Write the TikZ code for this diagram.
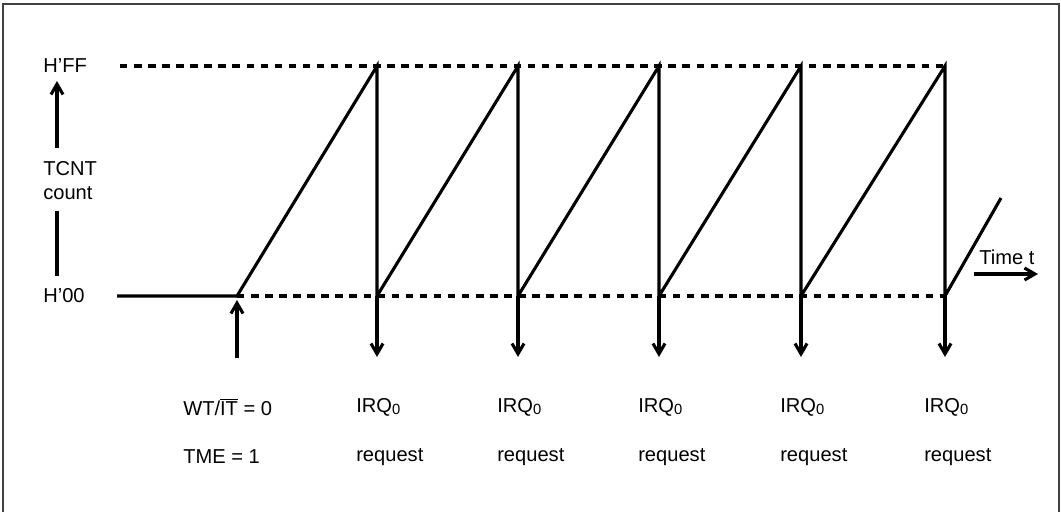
\documentclass[tikz,border=0pt]{standalone}
\usepackage{fontspec}
\setmainfont{Liberation Sans}
\usetikzlibrary{arrows.meta,positioning,calc}

\begin{document}
\begin{tikzpicture}[x=0.025cm,y=-0.025cm,>={Straight Barb[length=2.6mm,width=3mm]},
  lbl/.style={font=\fontsize{14.3}{17}\selectfont,inner sep=0pt,anchor=west},
  wave/.style={line width=2.2pt},
  lvl/.style={line width=2.2pt,dash pattern=on 5.3pt off 4.7pt}]
\useasboundingbox (0,0) rectangle (1061,512);
\clip (0,0) rectangle (1061,512);
\draw[line width=1pt,black!75] (3,4) rectangle (1059,540);
% axis labels
\node[lbl] (ff) at (43,66) {H'FF};
\node[lbl] (zero) at (43,296) {H'00};
\node[lbl,align=left] (tcnt) at (43,181) {TCNT\\count};
\coordinate (ua) at (57,148); \coordinate (ub) at (57,81);
\coordinate (la) at (57,211); \coordinate (lb) at (57,276);
\draw[->,wave] (ua) -- (ub);
\draw[wave] (la) -- (lb);
% levels
\coordinate (start) at (237,296);
\draw[lvl] (120,66) -- (945,66);
\draw[lvl] (start) -- (945,296);
% count
\draw[wave] (117,296) -- (start) -- (377,66) -- (377,296) -- (518,66) -- (518,296)
  -- (659,66) -- (659,296) -- (801,66) -- (801,296) -- (945,66) -- (945,296) -- (1001,198);
\foreach \x in {377,518,659,801,945}{
  \coordinate (r\x) at (\x,296); \coordinate (q\x) at (\x,357);
  \draw[->,wave] (r\x) -- (q\x);
  \node[lbl] (irq\x) at (\x-21,407) {IRQ\raisebox{-0.25ex}{\fontsize{10.5}{12}\selectfont 0}};
  \node[lbl] (req\x) at (\x-21,457) {request};
}
% start
\coordinate (sb) at (237,358);
\draw[->,wave] (sb) -- ([yshift=-0.1cm]start);
\node[lbl] (wt) at (183,407) {WT/$\overline{\hbox{IT}}$ = 0};
\node[lbl] (tme) at (183,457) {TME = 1};
% time
\node[lbl,anchor=center] (time) at (1007,257) {Time t};
\coordinate (ta) at (974,274); \coordinate (tb) at (1038,274);
\draw[->,wave] (ta) -- (tb);
\end{tikzpicture}
\end{document}
